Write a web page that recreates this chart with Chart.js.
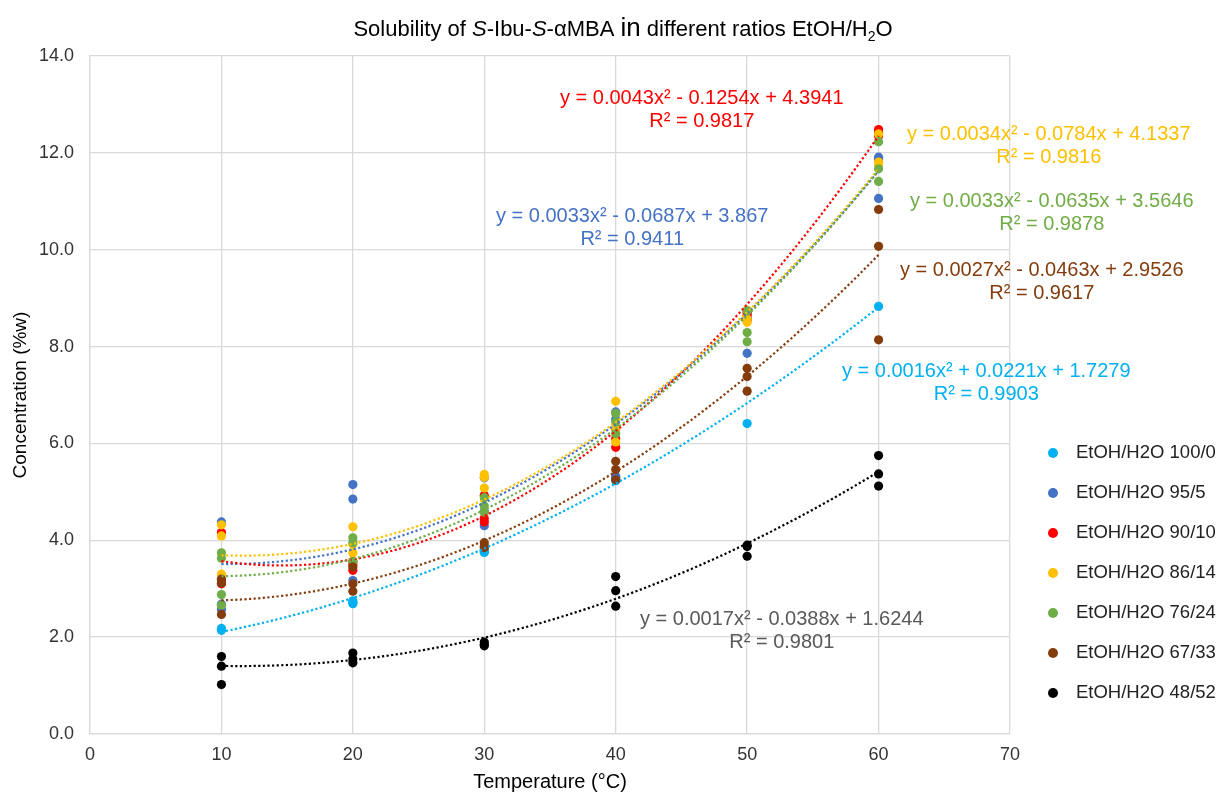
<!DOCTYPE html>
<html>
<head>
<meta charset="utf-8">
<title>Solubility of S-Ibu-S-αMBA</title>
<script src="https://cdn.jsdelivr.net/npm/chart.js"></script>
<style>
  html, body { margin: 0; padding: 0; background: #fff; }
  #wrap { width: 1218px; height: 794px; }
</style>
</head>
<body>
<div id="wrap"><canvas id="solChart" width="1218" height="794"></canvas></div>
<script>
// Measured temperatures (°C)
const temps = [10, 20, 30, 40, 50, 60];

// Concentration (%w) replicates at each temperature, per solvent ratio
const conc100_0 = [[2.14, 2.16, 2.18], [2.69, 2.72, 2.75], [3.75, 3.77, 3.8], [5.23, 5.26, 5.3], [6.41], [8.83]];
const conc95_5  = [[4.38, 2.68, 2.57], [5.15, 4.85, 3.17], [5.29, 4.6, 4.3], [6.65, 6.5, 5.32], [8.7, 8.6, 7.86], [11.91, 11.87, 11.06]];
const conc90_10 = [[4.16, 3.18, 3.1], [3.56, 3.5, 3.38], [4.93, 4.45, 4.38], [6.3, 6.1, 5.92], [8.72, 8.65, 8.55], [12.48, 12.42, 12.35]];
const conc86_14 = [[4.32, 4.09, 3.3], [4.28, 3.92, 3.74], [5.36, 5.3, 5.08], [6.87, 6.3, 6.03], [8.75, 8.57, 8.5], [12.39, 11.81, 11.75]];
const conc76_24 = [[3.74, 3.63, 2.88, 2.66], [4.05, 3.95, 3.56], [4.88, 4.71, 4.58], [6.62, 6.44, 6.2], [8.74, 8.29, 8.1], [12.23, 11.67, 11.41]];
const conc67_33 = [[3.2, 3.12, 2.47], [3.45, 3.1, 2.95], [3.95, 3.88, 3.85], [5.63, 5.46, 5.25], [7.55, 7.38, 7.08], [10.83, 10.07, 8.14]];
const conc48_52 = [[1.6, 1.4, 1.02], [1.67, 1.55, 1.47], [1.9, 1.85, 1.82], [3.25, 2.96, 2.64], [3.9, 3.87, 3.67], [5.75, 5.37, 5.12]];

const seriesNames = ['EtOH/H2O 100/0', 'EtOH/H2O 95/5', 'EtOH/H2O 90/10', 'EtOH/H2O 86/14',
                     'EtOH/H2O 76/24', 'EtOH/H2O 67/33', 'EtOH/H2O 48/52'];
const seriesColors = ['#00B0F0', '#4472C4', '#FF0000', '#FFC000', '#70AD47', '#843C0C', '#000000'];

// Polynomial trendline coefficients [a, b, c] for y = a*x^2 + b*x + c, and R²
const trendCoef = [
  [0.0016, 0.0221, 1.7279],
  [0.0033, -0.0687, 3.867],
  [0.0043, -0.1254, 4.3941],
  [0.0034, -0.0784, 4.1337],
  [0.0033, -0.0635, 3.5646],
  [0.0027, -0.0463, 2.9526],
  [0.0017, -0.0388, 1.6244]
];
const trendR2 = ['0.9903', '0.9411', '0.9817', '0.9816', '0.9878', '0.9617', '0.9801'];

const yTicks = [0, 2, 4, 6, 8, 10, 12, 14];

const allConc = [conc100_0, conc95_5, conc90_10, conc86_14, conc76_24, conc67_33, conc48_52];

// label placement: left edge and top line center (px)
const labelPos = [
  [842, 371], [496, 216], [560, 98], [907, 134], [910, 201], [900, 270], [640, 619]
];
const labelColors = ['#00B0F0', '#4472C4', '#FF0000', '#FFC000', '#70AD47', '#843C0C', '#595959'];

function fmtCoef(v) {
  return Math.abs(v).toString();
}
function equationText(c) {
  return 'y = ' + fmtCoef(c[0]) + 'x² ' + (c[1] < 0 ? '- ' : '+ ') + fmtCoef(c[1]) + 'x ' +
         (c[2] < 0 ? '- ' : '+ ') + fmtCoef(c[2]);
}

const datasets = [];
allConc.forEach((rows, s) => {
  const pts = [];
  rows.forEach((vals, i) => vals.forEach(v => pts.push({ x: temps[i], y: v })));
  datasets.push({
    label: seriesNames[s],
    data: pts,
    showLine: false,
    pointRadius: 4.6,
    pointHoverRadius: 4.6,
    pointBackgroundColor: seriesColors[s],
    pointBorderColor: seriesColors[s],
    pointBorderWidth: 0,
    order: 20 - s
  });
});
// fitted curves from the stated coefficients, 10..60 °C
trendCoef.forEach((c, s) => {
  const pts = [];
  for (let x = temps[0]; x <= temps[temps.length - 1]; x += 0.5) {
    pts.push({ x: x, y: c[0] * x * x + c[1] * x + c[2] });
  }
  datasets.push({
    label: 'trend ' + seriesNames[s],
    data: pts,
    showLine: true,
    borderColor: seriesColors[s],
    borderWidth: 2.2,
    borderDash: [2.2, 2.4],
    pointRadius: 0,
    fill: false,
    order: 10 - s
  });
});

const FONT = '"Liberation Sans", Arial, sans-serif';

const overlay = {
  id: 'overlay',
  afterDraw(chart) {
    const ctx = chart.ctx;
    ctx.save();

    // title with italic S, larger "in" and subscript 2
    const runs = [
      ['Solubility of ', 'normal 22px'],
      ['S', 'italic 22px'],
      ['-Ibu-', 'normal 22px'],
      ['S', 'italic 22px'],
      ['-αMBA ', 'normal 22px'],
      ['in', 'normal 26px'],
      [' different ratios EtOH/H', 'normal 22px'],
      ['2', 'normal 14px', 5],
      ['O', 'normal 22px']
    ];
    let total = 0;
    runs.forEach(r => { ctx.font = r[1] + ' ' + FONT; total += ctx.measureText(r[0]).width; });
    let tx = 623 - total / 2;
    ctx.fillStyle = '#000';
    ctx.textBaseline = 'alphabetic';
    ctx.textAlign = 'left';
    runs.forEach(r => {
      ctx.font = r[1] + ' ' + FONT;
      ctx.fillText(r[0], tx, 36 + (r[2] || 0));
      tx += ctx.measureText(r[0]).width;
    });

    // trendline equations
    ctx.font = '20px ' + FONT;
    ctx.textBaseline = 'middle';
    trendCoef.forEach((c, s) => {
      const eq = equationText(c);
      const w = ctx.measureText(eq).width;
      const [lx, ly] = labelPos[s];
      ctx.fillStyle = labelColors[s];
      ctx.textAlign = 'left';
      ctx.fillText(eq, lx, ly);
      ctx.textAlign = 'center';
      ctx.fillText('R² = ' + trendR2[s], lx + w / 2, ly + 23);
    });

    // legend
    ctx.font = '18.5px ' + FONT;
    ctx.textAlign = 'left';
    seriesNames.forEach((name, s) => {
      const y = 453 + s * 40;
      ctx.fillStyle = seriesColors[s];
      ctx.beginPath();
      ctx.arc(1053, y, 5, 0, Math.PI * 2);
      ctx.fill();
      ctx.fillStyle = '#222';
      ctx.fillText(name, 1076, y);
    });
    ctx.restore();
  }
};

new Chart(document.getElementById('solChart'), {
  type: 'scatter',
  data: { datasets: datasets },
  options: {
    responsive: false,
    animation: false,
    devicePixelRatio: 1,
    layout: { padding: { top: 56, right: 208, bottom: 0, left: 0 } },
    plugins: {
      legend: { display: false },
      title: { display: false },
      tooltip: { enabled: false }
    },
    scales: {
      x: {
        type: 'linear',
        min: 0,
        max: 70,
        ticks: { stepSize: 10, color: '#333', font: { size: 18, family: FONT }, padding: 10 },
        grid: { color: '#d9d9d9', lineWidth: 1.3, drawTicks: false },
        border: { color: '#d9d9d9', width: 1.3 },
        title: { display: true, text: 'Temperature (°C)', color: '#000', font: { size: 20, family: FONT }, padding: { top: 4, bottom: 0 } },
        afterFit(scale) { scale.height = 60; }
      },
      y: {
        min: 0,
        max: 14,
        afterBuildTicks(scale) { scale.ticks = yTicks.map(v => ({ value: v })); },
        ticks: { color: '#333', font: { size: 18, family: FONT }, padding: 16, callback: v => v.toFixed(1) },
        grid: { color: '#d9d9d9', lineWidth: 1.3, drawTicks: false },
        border: { color: '#d9d9d9', width: 1.3 },
        title: { display: true, text: 'Concentration (%w)', color: '#000', font: { size: 19, family: FONT }, padding: { top: 9, bottom: 0 } },
        afterFit(scale) { scale.width = 90; }
      }
    }
  },
  plugins: [overlay]
});
</script>
</body>
</html>
